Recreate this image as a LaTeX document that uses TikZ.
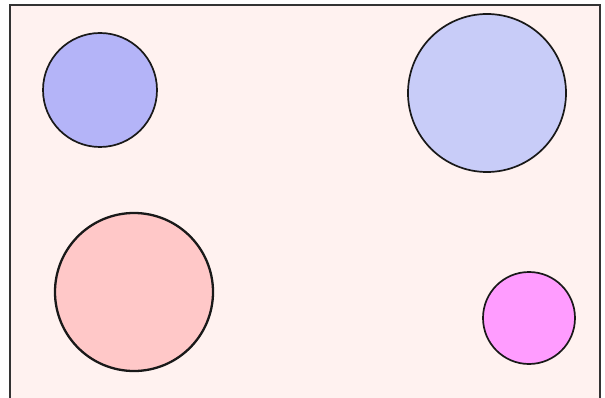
\documentclass[tikz,border=0pt]{standalone}
\usepackage{tikz}
\definecolor{bgpink}{HTML}{FFF2F0}
\definecolor{ballblue}{HTML}{B4B4F8}
\definecolor{paleblue}{HTML}{C8CCF8}
\definecolor{ballpink}{HTML}{FFC8C8}
\definecolor{ballmagenta}{HTML}{FF9CFF}
\tikzset{
  ball/.style = {
    circle, draw=black!90, line width=1.7pt,
    inner sep=0pt % size set by minimum size only
  },
  frame/.style = {draw=black!80, line width=2pt}
}

\begin{document}
\begin{tikzpicture}[x=1pt,y=-1pt]
\useasboundingbox (0,0) rectangle (605,398);
\fill[white] (0,0) rectangle (605,398);
\fill[bgpink] (10,5) rectangle (600,398);
\draw[frame] (10,398)--(10,5)--(600,5)--(600,398);
\node[ball, fill=ballblue, minimum size=114pt] (smallblue) at (100,90){};   % top left
\node[ball, fill=paleblue, minimum size=158pt] (bigblue) at (487,93){};     % top right
\node[ball, fill=ballpink, minimum size=158pt, line width=2.3pt] (pinkball) at (134,292){}; % bottom left
\node[ball, fill=ballmagenta, minimum size=92pt] (magball) at (529,318){};  % bottom right
\end{tikzpicture}
\end{document}
